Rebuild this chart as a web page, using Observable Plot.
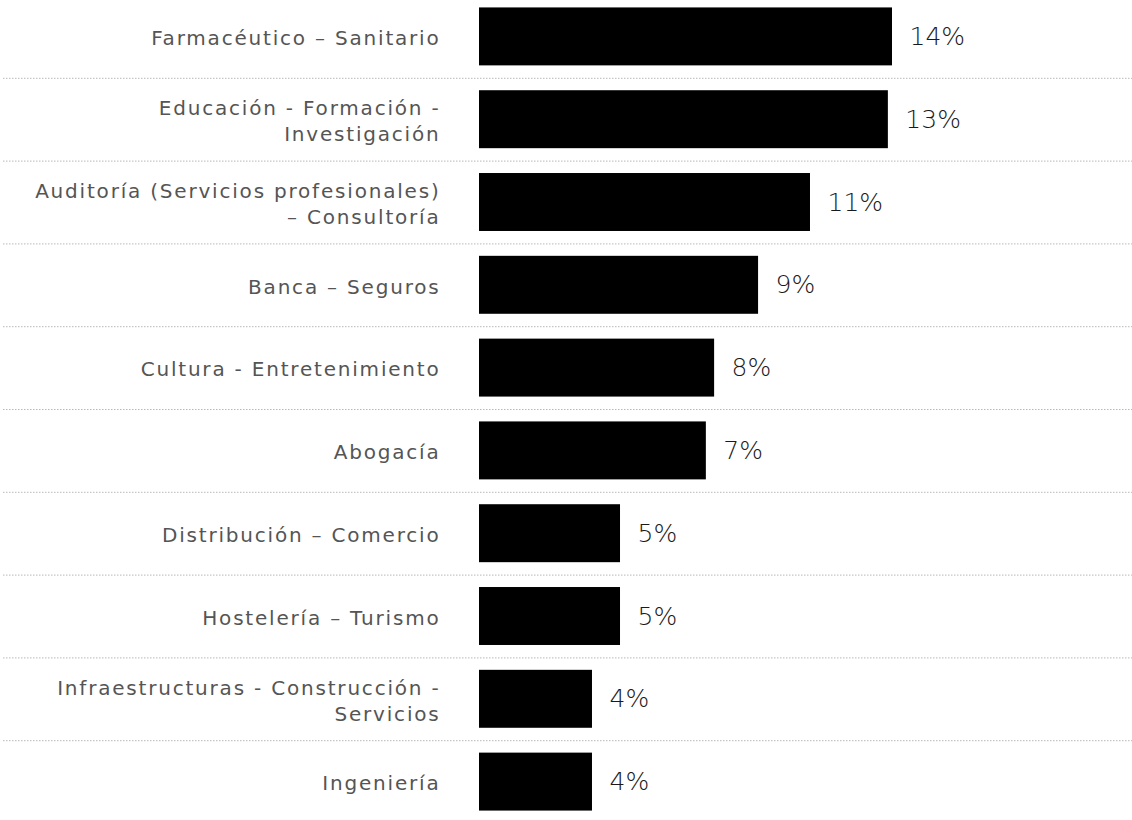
<!DOCTYPE html>
<html>
<head>
<meta charset="utf-8">
<script src="https://cdn.jsdelivr.net/npm/d3@7"></script>
<script src="https://cdn.jsdelivr.net/npm/@observablehq/plot@0.6"></script>
<style>
  html, body { margin: 0; padding: 0; background: #fff; }
  #chart svg { display: block; }
</style>
</head>
<body>
<div id="chart"></div>
<script>
const categories = [
  "Farmacéutico – Sanitario",
  "Educación - Formación -\nInvestigación",
  "Auditoría (Servicios profesionales)\n– Consultoría",
  "Banca – Seguros",
  "Cultura - Entretenimiento",
  "Abogacía",
  "Distribución – Comercio",
  "Hostelería – Turismo",
  "Infraestructuras - Construcción -\nServicios",
  "Ingeniería"
];
const values = [14.0, 13.86, 11.22, 9.46, 7.97, 7.69, 4.78, 4.78, 3.83, 3.83];
const valueLabels = ["14%", "13%", "11%", "9%", "8%", "7%", "5%", "5%", "4%", "4%"];

const data = categories.map((c, i) => ({cat: c, value: values[i], label: valueLabels[i]}));
const separators = data.slice(0, -1);

const W = 1132, H = 820;
const chart = Plot.plot({
  width: W,
  height: H,
  marginLeft: 3,
  marginRight: 0,
  marginTop: 0,
  marginBottom: 0,
  style: {fontFamily: "'DejaVu Sans', sans-serif", background: "#fff"},
  x: {domain: [0, 14], range: [479, 892], axis: null},
  y: {domain: categories, range: [-5, 823], paddingInner: 0.3, paddingOuter: 0.15, round: false, axis: null},
  marks: [
    Plot.ruleY(separators, {y: "cat", dy: 41.4, stroke: "#b8b8b8", strokeWidth: 1, strokeDasharray: "1.5,1.5"}),
    Plot.barX(data, {y: "cat", x: "value", fill: "#000"}),
    Plot.text(data, {y: "cat", x: 0, dx: -39, text: "cat", textAnchor: "end", fontSize: 20, fill: "#555", lineHeight: 1.3}),
    Plot.text(data, {y: "cat", x: "value", dx: 17, text: "label", textAnchor: "start", fontSize: 25, fontWeight: 200, fill: "#1a1a1a"})
  ]
});
// widen the category labels (letter-spacing, as in the original typography)
const textGroups = chart.querySelectorAll('g[aria-label="text"]');
if (textGroups.length) textGroups[0].setAttribute("letter-spacing", "1.8");
document.getElementById("chart").appendChild(chart);
</script>
</body>
</html>
